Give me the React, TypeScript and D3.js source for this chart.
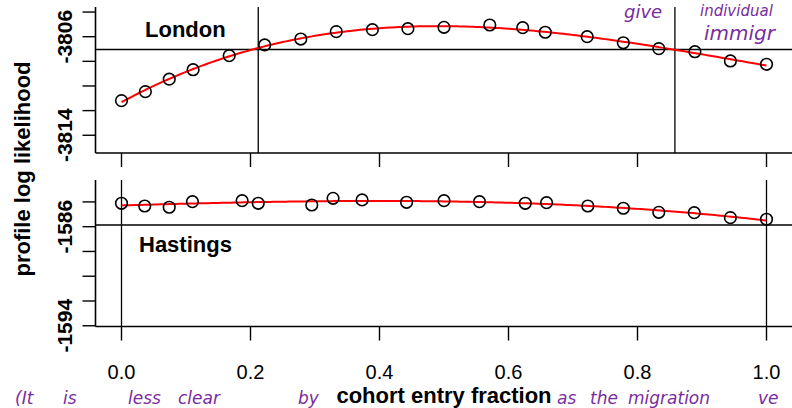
import React from "react";
import * as d3 from "d3";

// Cohort entry fraction grid and profile log likelihoods per site
const londonX = [0, 0.037, 0.074, 0.111, 0.167, 0.222, 0.278, 0.333, 0.389, 0.444, 0.5, 0.571, 0.622, 0.657, 0.722, 0.778, 0.833, 0.889, 0.944, 1.0];
const londonLL = [-3811.19, -3810.46, -3809.45, -3808.68, -3807.54, -3806.67, -3806.19, -3805.59, -3805.43, -3805.35, -3805.24, -3805.05, -3805.27, -3805.64, -3806.0, -3806.49, -3806.97, -3807.22, -3807.97, -3808.24];

const hastingsX = [0, 0.036, 0.074, 0.11, 0.187, 0.212, 0.295, 0.328, 0.373, 0.442, 0.5, 0.555, 0.626, 0.659, 0.723, 0.778, 0.833, 0.888, 0.944, 1.0];
const hastingsLL = [-1584.11, -1584.33, -1584.43, -1583.98, -1583.9, -1584.11, -1584.25, -1583.71, -1583.84, -1584.03, -1583.9, -1583.98, -1584.11, -1584.06, -1584.33, -1584.51, -1584.84, -1584.87, -1585.27, -1585.4];

// 95% cutoff (max - 1.92) and the confidence interval it implies
const londonCutoff = -3807.03;
const londonCI = [0.212, 0.858];
const hastingsCutoff = -1585.86;
const hastingsCI = [0, 1];

const xTicks = [0, 0.2, 0.4, 0.6, 0.8, 1.0];
const xTickLabels = ["0.0", "0.2", "0.4", "0.6", "0.8", "1.0"];
const londonYTicks = [-3804, -3806, -3808, -3810, -3812, -3814];
const londonYLabels = ["-3806", "-3814"];
const hastingsYTicks = [-1584, -1586, -1588, -1590, -1592, -1594];
const hastingsYLabels = ["-1586", "-1594"];

// Pen notes written over the figure
const topNotes = ["give", "individual", "immigr"];
const bottomNotes = ["(It", "is", "less", "clear", "by", "as", "the", "migration", "ve"];

// Least-squares polynomial fit
function polyfit(xs: number[], ys: number[], deg: number) {
  const my = d3.mean(ys) as number;
  const n = deg + 1;
  const A: number[][] = Array.from({ length: n }, () => new Array(n + 1).fill(0));
  xs.forEach((x, k) => {
    const y = ys[k] - my;
    for (let i = 0; i < n; i++) {
      for (let j = 0; j < n; j++) A[i][j] += Math.pow(x, i + j);
      A[i][n] += Math.pow(x, i) * y;
    }
  });
  for (let c = 0; c < n; c++) {
    let p = c;
    for (let r = c + 1; r < n; r++) if (Math.abs(A[r][c]) > Math.abs(A[p][c])) p = r;
    [A[c], A[p]] = [A[p], A[c]];
    for (let r = 0; r < n; r++) {
      if (r === c) continue;
      const f = A[r][c] / A[c][c];
      for (let j = c; j <= n; j++) A[r][j] -= f * A[c][j];
    }
  }
  const coef = A.map((row, i) => row[n] / row[i]);
  return (x: number) => my + coef.reduce((s, b, i) => s + b * Math.pow(x, i), 0);
}

const W = 792;
const H = 408;
const axisX = 95.5;
const rightEdge = 792;

const x = d3.scaleLinear().domain([0, 1]).range([121.5, 766.5]);

type PanelProps = {
  xs: number[];
  ll: number[];
  cutoff: number;
  ci: number[];
  yTicks: number[];
  yLabels: string[];
  top: number;
  bottom: number;
  domain: [number, number];
  name: string;
  nameX: number;
  nameY: number;
  showXLabels: boolean;
};

function Panel(p: PanelProps) {
  const y = d3.scaleLinear().domain(p.domain).range([p.bottom, p.top]);
  const fit = polyfit(p.xs, p.ll, 3);
  const grid = d3.range(0, 1.0001, 0.005);
  const line = d3
    .line<number>()
    .x((d) => x(d))
    .y((d) => y(fit(d)));
  return (
    <g>
      {/* axes */}
      <line x1={axisX} x2={axisX} y1={p.top} y2={p.bottom} stroke="#000" strokeWidth={1.6} />
      <line x1={axisX} x2={rightEdge} y1={p.bottom} y2={p.bottom} stroke="#000" strokeWidth={1.6} />
      {p.yTicks.map((t) => (
        <line key={t} x1={axisX - 13} x2={axisX} y1={y(t)} y2={y(t)} stroke="#000" strokeWidth={1.4} />
      ))}
      {p.yLabels.map((t) => (
        <text
          key={t}
          transform={`translate(72,${y(+t)}) rotate(-90)`}
          textAnchor="middle"
          fontFamily="Liberation Sans, Arial, sans-serif"
          fontWeight="bold"
          fontSize={21}
        >
          {t}
        </text>
      ))}
      {xTicks.map((t) => (
        <line key={t} x1={x(t)} x2={x(t)} y1={p.bottom} y2={p.bottom + 14} stroke="#000" strokeWidth={1.4} />
      ))}
      {p.showXLabels &&
        xTicks.map((t, i) => (
          <text
            key={t}
            x={x(t)}
            y={379}
            textAnchor="middle"
            fontFamily="Liberation Sans, Arial, sans-serif"
            fontSize={20}
          >
            {xTickLabels[i]}
          </text>
        ))}
      {/* cutoff and interval bounds */}
      <line x1={axisX} x2={rightEdge} y1={y(p.cutoff)} y2={y(p.cutoff)} stroke="#000" strokeWidth={1.5} />
      {p.ci.map((c, i) => (
        <line key={i} x1={x(c)} x2={x(c)} y1={p.top} y2={p.bottom} stroke="#000" strokeWidth={1.3} />
      ))}
      <path d={line(grid) || ""} fill="none" stroke="#ff0000" strokeWidth={2} />
      {p.xs.map((d, i) => (
        <circle key={i} cx={x(d)} cy={y(p.ll[i])} r={5.8} fill="none" stroke="#000" strokeWidth={1.6} />
      ))}
      <text
        x={p.nameX}
        y={p.nameY}
        fontFamily="Liberation Sans, Arial, sans-serif"
        fontWeight="bold"
        fontSize={22}
      >
        {p.name}
      </text>
    </g>
  );
}

const ink = "#7a2c9e";
const noteFont = "DejaVu Sans, sans-serif";
const topNoteXY = [
  [624, 18],
  [700, 16],
  [704, 40],
];
const topNoteSize = [18, 15, 20];
const bottomNoteX = [15, 63, 128, 178, 298, 557, 590, 628, 758];

export default function App() {
  return (
    <svg
      width={W}
      height={H}
      viewBox={`0 0 ${W} ${H}`}
      style={{ position: "absolute", left: 0, top: 0, background: "#fff" }}
    >
      <rect width={W} height={H} fill="#fff" />
      <Panel
        xs={londonX}
        ll={londonLL}
        cutoff={londonCutoff}
        ci={londonCI}
        yTicks={londonYTicks}
        yLabels={londonYLabels}
        top={7}
        bottom={153}
        domain={[-3815.44, -3803.59]}
        name="London"
        nameX={145}
        nameY={37}
        showXLabels={false}
      />
      <Panel
        xs={hastingsX}
        ll={hastingsLL}
        cutoff={hastingsCutoff}
        ci={hastingsCI}
        yTicks={hastingsYTicks}
        yLabels={hastingsYLabels}
        top={180}
        bottom={326.5}
        domain={[-1594.06, -1582.23]}
        name="Hastings"
        nameX={139}
        nameY={251.5}
        showXLabels={true}
      />
      <text
        transform="translate(30,169) rotate(-90)"
        textAnchor="middle"
        fontFamily="Liberation Sans, Arial, sans-serif"
        fontWeight="bold"
        fontSize={22}
      >
        profile log likelihood
      </text>
      <text
        x={444}
        y={403}
        textAnchor="middle"
        fontFamily="Liberation Sans, Arial, sans-serif"
        fontWeight="bold"
        fontSize={22}
      >
        cohort entry fraction
      </text>
      {/* handwritten notes */}
      <g fill={ink} fontFamily={noteFont} fontStyle="italic">
        {topNotes.map((t, i) => (
          <text key={t} x={topNoteXY[i][0]} y={topNoteXY[i][1]} fontSize={topNoteSize[i]}>
            {t}
          </text>
        ))}
        {bottomNotes.map((t, i) => (
          <text key={i} x={bottomNoteX[i]} y={404} fontSize={17}>
            {t}
          </text>
        ))}
      </g>
    </svg>
  );
}
